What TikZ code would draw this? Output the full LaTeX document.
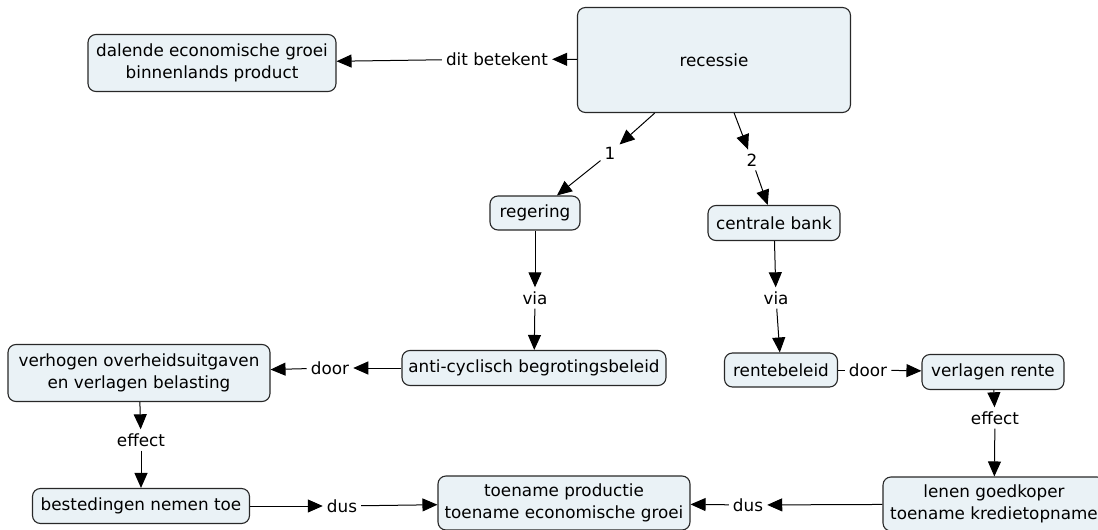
\documentclass[tikz,border=0pt]{standalone}
\usepackage{fontspec}
\setmainfont{DejaVu Sans}
\usepackage{tikz}
\usetikzlibrary{positioning, shapes, arrows.meta}

\definecolor{conceptfill}{RGB}{234,242,246}
\definecolor{conceptline}{RGB}{40,40,40}

\tikzset{
  concept/.style={draw=conceptline, fill=conceptfill, line width=1.1pt,
    rounded corners=8pt, align=center, inner sep=3pt,
    font=\fontsize{16.8}{22}\selectfont},
  linklabel/.style={inner sep=4pt, font=\fontsize{16.8}{20}\selectfont},
  link/.style={line width=1pt, -{Triangle[length=15pt,width=13pt]}},
  plainlink/.style={line width=1pt}
}

\begin{document}
\begin{tikzpicture}[x=1pt, y=-1pt]
    \useasboundingbox (0,0) rectangle (1098,530);

    % concepts
    \node [concept, minimum width=273pt, minimum height=105pt] (recessie) at (714,60) {recessie};
    \node [concept, minimum width=248pt, minimum height=57pt] (dalende) at (212,63) {dalende economische groei\\binnenlands product};
    \node [concept, minimum width=90pt, minimum height=34pt] (regering) at (535,213) {regering};
    \node [concept, minimum width=132pt, minimum height=35pt] (bank) at (774,223) {centrale bank};
    \node [concept, minimum width=264pt, minimum height=35pt] (anticyclisch) at (534,368) {anti-cyclisch begrotingsbeleid};
    \node [concept, minimum width=113pt, minimum height=34pt] (rentebeleid) at (781,370) {rentebeleid};
    \node [concept, minimum width=142pt, minimum height=35pt] (verlagen) at (993,372) {verlagen rente};
    \node [concept, minimum width=262pt, minimum height=57pt] (verhogen) at (139,373) {verhogen overheidsuitgaven\\en verlagen belasting};
    \node [concept, minimum width=217pt, minimum height=35pt] (bestedingen) at (141,506) {bestedingen nemen toe};
    \node [concept, minimum width=252pt, minimum height=54pt] (toename) at (564,503) {toename productie\\toename economische groei};
    \node [concept, minimum width=222pt, minimum height=54pt] (lenen) at (994,504) {lenen goedkoper\\toename kredietopname};

    % link labels
    \node [linklabel] (lblbetekent) at (497,59) {dit betekent};
    \node [linklabel] (lblone) at (610,153) {1};
    \node [linklabel] (lbltwo) at (752,160) {2};
    \node [linklabel] (lblviaA) at (535,298) {via};
    \node [linklabel] (lblviaB) at (776,298) {via};
    \node [linklabel] (lbldoorA) at (330,368) {door};
    \node [linklabel] (lbldoorB) at (868,370) {door};
    \node [linklabel] (lbleffectA) at (141,440) {effect};
    \node [linklabel] (lbleffectB) at (995,418) {effect};
    \node [linklabel] (lbldusA) at (342,506) {dus};
    \node [linklabel] (lbldusB) at (748,505) {dus};

    % connectors
    \draw [link] (recessie) -- (lblbetekent);
    \draw [link] (lblbetekent) -- (dalende);
    \draw [link] (recessie) -- (lblone);
    \draw [link] (lblone) -- (regering);
    \draw [link] (recessie) -- (lbltwo);
    \draw [link] (lbltwo) -- (bank);
    \draw [link] (regering) -- (lblviaA);
    \draw [link] (lblviaA) -- (anticyclisch);
    \draw [link] (bank) -- (lblviaB);
    \draw [link] (lblviaB) -- (rentebeleid);
    \draw [link] (anticyclisch) -- (lbldoorA);
    \draw [link] (lbldoorA) -- (verhogen);
    \draw [plainlink] (rentebeleid) -- (lbldoorB);
    \draw [link] (lbldoorB) -- (verlagen);
    \draw [link] (verhogen) -- (lbleffectA);
    \draw [link] (lbleffectA) -- (bestedingen);
    \draw [link] (verlagen) -- (lbleffectB);
    \draw [link] (lbleffectB) -- (lenen);
    \draw [link] (bestedingen) -- (lbldusA);
    \draw [link] (lbldusA) -- (toename);
    \draw [link] (lenen) -- (lbldusB);
    \draw [link] (lbldusB) -- (toename);
  \end{tikzpicture}
\end{document}
